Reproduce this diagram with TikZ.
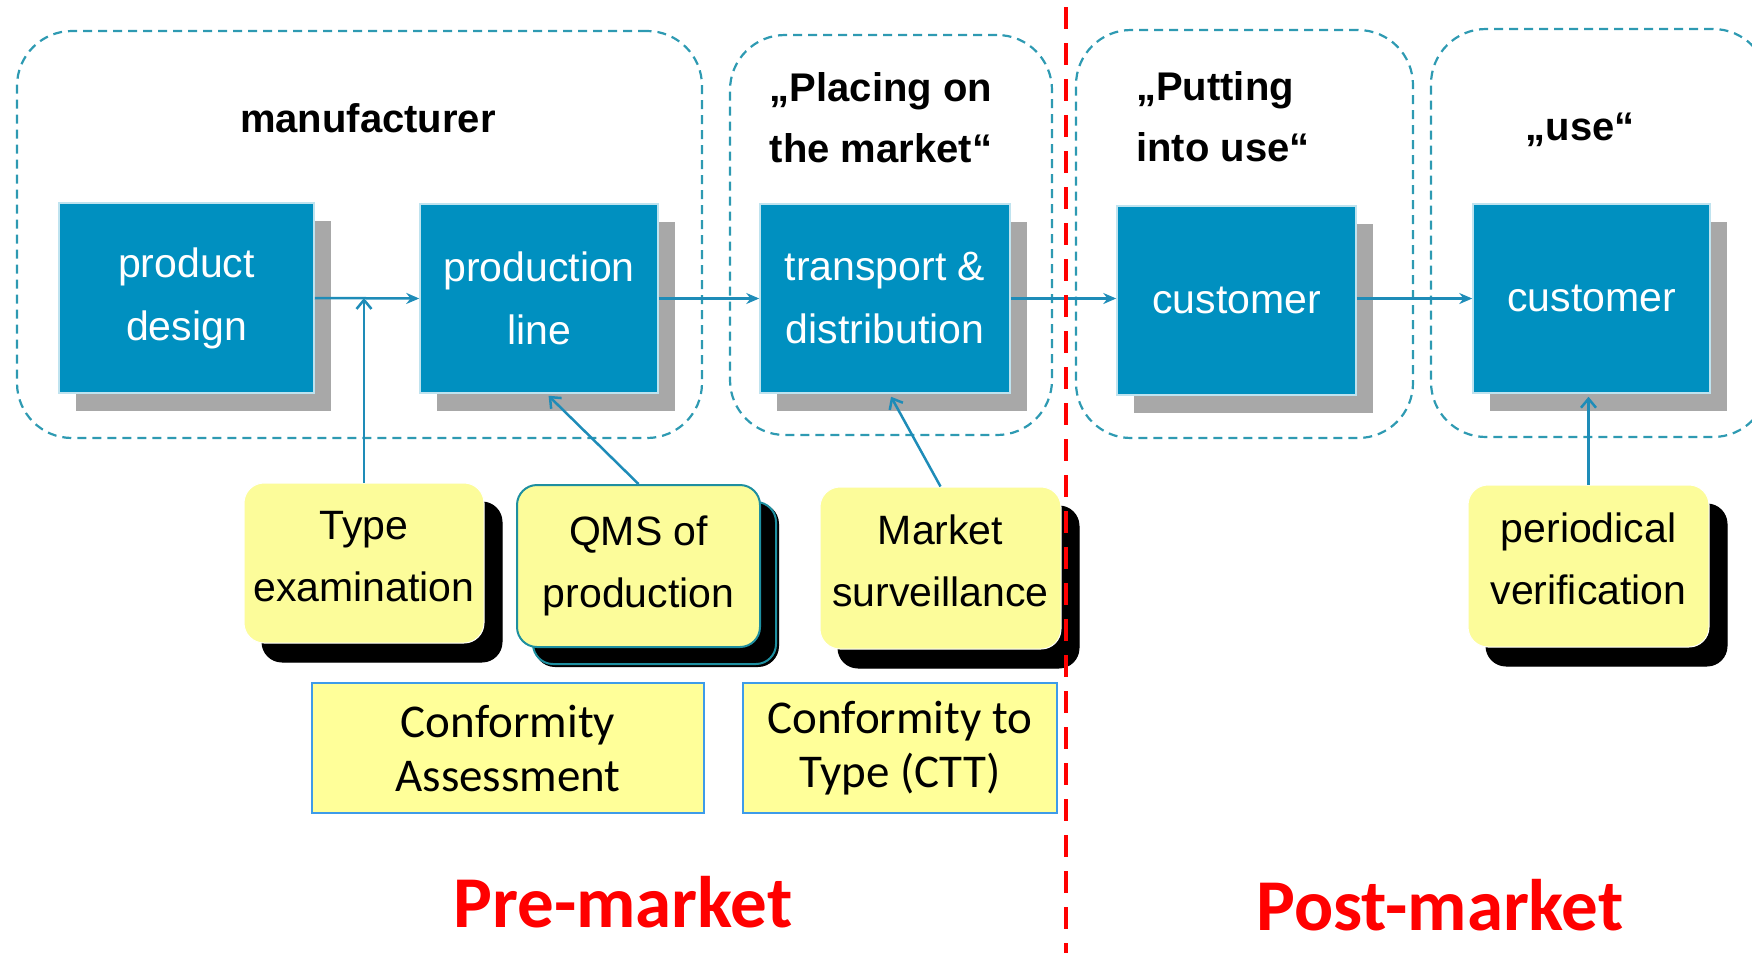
\documentclass[tikz,border=0pt]{standalone}
\usepackage{fontspec}
\setmainfont{Liberation Sans}
\newfontfamily\calibrifont{Carlito}
\usetikzlibrary{arrows.meta,shadows,calc}

\definecolor{boxblue}{HTML}{0090C0}
\definecolor{boxedge}{HTML}{BFE3EF}
\definecolor{dashteal}{HTML}{2E9AB2}
\definecolor{arrowblue}{HTML}{1E8CB8}
\definecolor{calloutyellow}{HTML}{FCFC9A}
\definecolor{confyellow}{HTML}{FFFF99}
\definecolor{confblue}{HTML}{3D9BE9}
\definecolor{shadowgray}{HTML}{A8A8A8}
\definecolor{qmsteal}{HTML}{1E8FA0}
\definecolor{markred}{HTML}{FF0000}

\newcommand{\lowstrut}{\rule[-14pt]{0pt}{14pt}}

\tikzset{
  phase/.style={draw=dashteal, line width=2.2pt, dash pattern=on 9pt off 6pt,
    rounded corners=55pt, inner sep=0pt},
  phaselabel/.style={font=\bfseries\fontsize{40}{61}\selectfont, inner sep=0pt},
  flowbox/.style={fill=boxblue, draw=boxedge, line width=1.5pt, text=white,
    font=\fontsize{41}{63}\selectfont, align=center, inner sep=0pt,
    copy shadow={shadow xshift=17pt, shadow yshift=-18pt, fill=shadowgray, draw=none}},
  callout/.style={fill=calloutyellow, draw=white, line width=1pt, rounded corners=20pt,
    font=\fontsize{41}{62}\selectfont, align=center, inner sep=0pt,
    copy shadow={shadow xshift=18pt, shadow yshift=-19pt, fill=black, draw=black}},
  qmscallout/.style={callout, draw=qmsteal, line width=2pt,
    copy shadow={shadow xshift=16pt, shadow yshift=-17pt, fill=black, draw=qmsteal}},
  confbox/.style={fill=confyellow, draw=confblue, line width=2pt,
    font=\calibrifont\fontsize{47}{54}\selectfont, align=center, inner sep=0pt},
  flowarrow/.style={draw=arrowblue, line width=2.5pt,
    -{Stealth[length=13pt,width=11pt]}},
  checkarrow/.style={draw=arrowblue, line width=2.5pt,
    -{Straight Barb[length=9pt,width=15pt,line width=2.5pt]}},
  reddash/.style={draw=markred, line width=4.5pt, dash pattern=on 22pt off 14pt, dash phase=-7pt},
  marketlabel/.style={text=markred, font=\calibrifont\bfseries\fontsize{73}{80}\selectfont, inner sep=0pt}
}

\begin{document}
\begin{tikzpicture}[x=1pt,y=-1pt]
\useasboundingbox (0,0) rectangle (1752,953);
\clip (0,0) rectangle (1752,953);

% phase boxes
\node[phase, minimum width=685pt, minimum height=407pt] (mf) at (359.5,234.5) {};
\node[phase, minimum width=322pt, minimum height=400pt] (pm) at (891,235) {};
\node[phase, minimum width=337pt, minimum height=408pt] (pu) at (1244.5,234) {};
\node[phase, minimum width=337pt, minimum height=408pt] (us) at (1599.5,233) {};

% phase labels
\node[phaselabel, anchor=base] (mflab) at (368,132) {manufacturer};
\node[phaselabel, align=center] (pmlab) at (881,118) {„Placing on\\the market“};
\node[phaselabel, align=left, anchor=west] (pulab) at (1136,117) {„Putting\\into use“};
\node[phaselabel, anchor=base] (uslab) at (1580,140) {„use“};

% blue process boxes
\node[flowbox, minimum width=255pt, minimum height=190pt] (pd) at (186.5,298) {product\\design};
\node[flowbox, minimum width=238pt, minimum height=189pt] (pl) at (539,298.5) {production\\line};
\node[flowbox, minimum width=250pt, minimum height=189pt] (td) at (885,298.5) {transport \&\\distribution};
\node[flowbox, minimum width=239pt, minimum height=189pt] (c1) at (1236.5,300.5) {customer};
\node[flowbox, minimum width=237pt, minimum height=189pt] (c2) at (1591.5,298.5) {customer};

% flow arrows
\draw[flowarrow] (pd.east) -- (pl.west);
\draw[flowarrow] (pl.east) -- (td.west);
\draw[flowarrow] (td.east) -- (td.east -| c1.west);
\draw[flowarrow] (c1.east |- c2.west) -- (c2.west);

% callouts
\node[callout, minimum width=240pt, minimum height=160pt] (te) at (364,563) {Type\\examination\lowstrut};
\node[qmscallout, minimum width=243pt, minimum height=162pt] (qms) at (638.5,566) {QMS of\\production};
\node[callout, minimum width=241pt, minimum height=162pt] (ms) at (940.5,568) {Market\\surveillance\lowstrut};
\node[callout, minimum width=241pt, minimum height=162pt] (pv) at (1588.5,566) {periodical\\verification\lowstrut};

% check arrows
\draw[checkarrow] (te.north) -- (te.north |- pd.east);
\draw[checkarrow] (qms.north) -- ($(pl.south west)!0.54!(pl.south east)+(0,2)$);
\draw[checkarrow] (ms.north) -- ($(td.south west)!0.524!(td.south east)+(0,3)$);
\draw[checkarrow] (pv.north) -- ($(pv.north |- c2.south)+(0,3)$);

% conformity boxes
\node[confbox, minimum width=392pt, minimum height=130pt] (ca) at (508,748) {Conformity\\Assessment};
\node[confbox, minimum width=314pt, minimum height=130pt] (ctt) at (900,748) {Conformity to\\Type (CTT)};

% divider
\coordinate (rtop) at (1066,0);
\coordinate (rbot) at (1066,953);
\draw[reddash] (rtop) -- (rbot);

% market labels
\node[marketlabel, anchor=base] (pre) at (623,927) {Pre-market};
\node[marketlabel, anchor=base] (post) at (1440,930) {Post-market};
\end{tikzpicture}
\end{document}
